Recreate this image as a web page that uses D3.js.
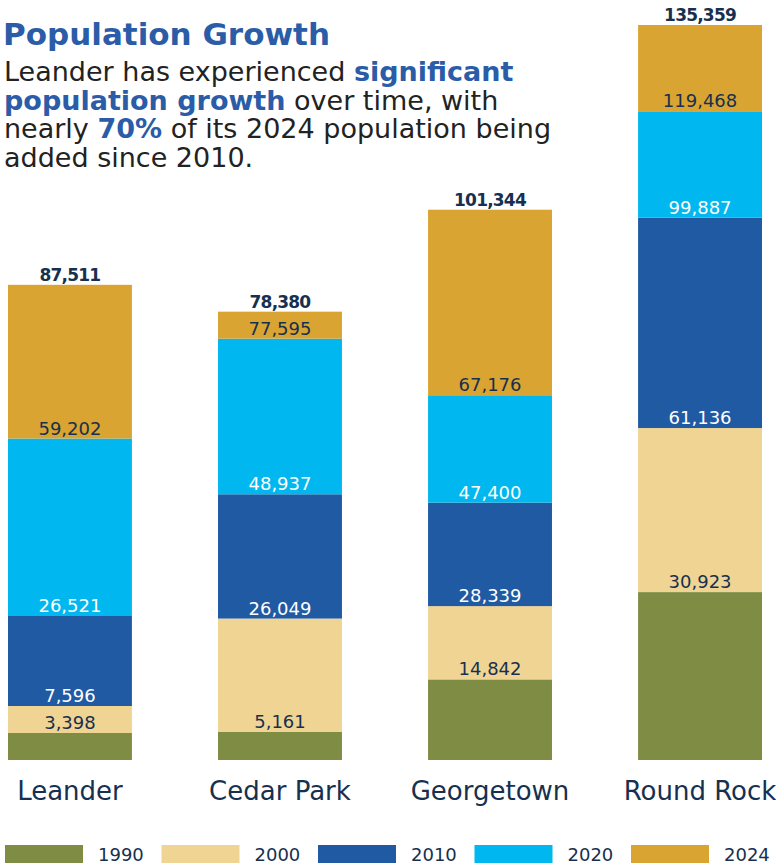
<!DOCTYPE html>
<html>
<head>
<meta charset="utf-8">
<script src="https://cdn.jsdelivr.net/npm/d3@7"></script>
<style>
  body { margin: 0; background: #fff; }
  svg { display: block; font-family: "DejaVu Sans", sans-serif; }
</style>
</head>
<body>
<div id="chart-area"></div>
<script>

// Data
var cities = ["Leander", "Cedar Park", "Georgetown", "Round Rock"];
var years = ["1990", "2000", "2010", "2020", "2024"];
var pop1990 = [3398, 5161, 14842, 30923];
var pop2000 = [7596, 26049, 28339, 61136];
var pop2010 = [26521, 48937, 47400, 99887];
var pop2020 = [59202, 77595, 67176, 119468];
var pop2024 = [87511, 78380, 101344, 135359];
var colors = ["#7e8c44", "#f0d493", "#1f5aa3", "#00b8ef", "#d9a431"];

var series = [pop1990, pop2000, pop2010, pop2020, pop2024];

var width = 776, height = 867;
var navy = "#17304f";
var blue = "#2a5ca8";
var minSeg = 27; // keep room for the label inside thin segments

var svg = d3.select("#chart-area").append("svg")
    .attr("width", width)
    .attr("height", height);

// Scales
var x = d3.scaleBand()
    .domain(cities)
    .range([8, 762])
    .paddingInner(0.41)
    .paddingOuter(0);

var y = d3.scaleLinear()
    .domain([0, d3.max(pop2024)])
    .range([760, 25]);

// Title + subtitle
svg.append("text")
    .attr("x", 3)
    .attr("y", 45)
    .attr("fill", blue)
    .attr("font-size", 31)
    .attr("font-weight", 700)
    .text("Population Growth");

var lines = [
  [["Leander has experienced ", false], ["significant", true]],
  [["population growth", true], [" over time, with", false]],
  [["nearly ", false], ["70%", true], [" of its 2024 population being", false]],
  [["added since 2010.", false]]
];

lines.forEach(function(parts, i) {
  var t = svg.append("text")
      .attr("x", 4)
      .attr("y", 81 + i * 28.5)
      .attr("font-size", 27)
      .attr("fill", "#222");
  parts.forEach(function(p) {
    t.append("tspan")
        .attr("fill", p[1] ? blue : "#222")
        .attr("font-weight", p[1] ? 700 : 400)
        .text(p[0]);
  });
});

// Build segments (pixel tops, thin ones get a minimum height)
var segs = [];
cities.forEach(function(c, ci) {
  var prevTop = y(0);
  series.forEach(function(s, si) {
    var top = Math.min(y(s[ci]), prevTop - minSeg);
    segs.push({
      city: c,
      year: si,
      value: s[ci],
      top: top,
      bottom: prevTop
    });
    prevTop = top;
  });
});

svg.selectAll("rect.bar")
    .data(segs)
  .enter().append("rect")
    .attr("class", "bar")
    .attr("x", function(d) { return x(d.city); })
    .attr("width", x.bandwidth())
    .attr("y", function(d) { return d.top; })
    .attr("height", function(d) { return d.bottom - d.top; })
    .attr("fill", function(d) { return colors[d.year]; });

// value labels (sit just above top of each segment)
svg.selectAll("text.val")
    .data(segs)
  .enter().append("text")
    .attr("class", "val")
    .attr("x", function(d) { return x(d.city) + x.bandwidth() / 2; })
    .attr("y", function(d) { return d.top - 4; })
    .attr("text-anchor", "middle")
    .attr("font-size", function(d) { return d.year == 4 ? 17 : 18; })
    .attr("letter-spacing", function(d) { return d.year == 4 ? -0.8 : 0; })
    .attr("font-weight", function(d) { return d.year == 4 ? 700 : 400; })
    .attr("fill", function(d) {
      if (d.year == 1 || d.year == 2) return "#fff";
      return navy;
    })
    .text(function(d) { return d3.format(",")(d.value); });

// category labels
svg.selectAll("text.cat")
    .data(cities)
  .enter().append("text")
    .attr("class", "cat")
    .attr("x", function(d) { return x(d) + x.bandwidth() / 2; })
    .attr("y", 800)
    .attr("text-anchor", "middle")
    .attr("font-size", 26)
    .attr("fill", navy)
    .text(function(d) { return d; });

// Legend
var legend = svg.selectAll("g.legend")
    .data(years)
  .enter().append("g")
    .attr("class", "legend")
    .attr("transform", function(d, i) { return "translate(" + (5 + i * 156.5) + ",845)"; });

legend.append("rect")
    .attr("width", 78)
    .attr("height", 18)
    .attr("fill", function(d, i) { return colors[i]; });

legend.append("text")
    .attr("x", 93)
    .attr("y", 16)
    .attr("font-size", 18)
    .attr("fill", navy)
    .text(function(d) { return d; });

</script>
</body>
</html>
